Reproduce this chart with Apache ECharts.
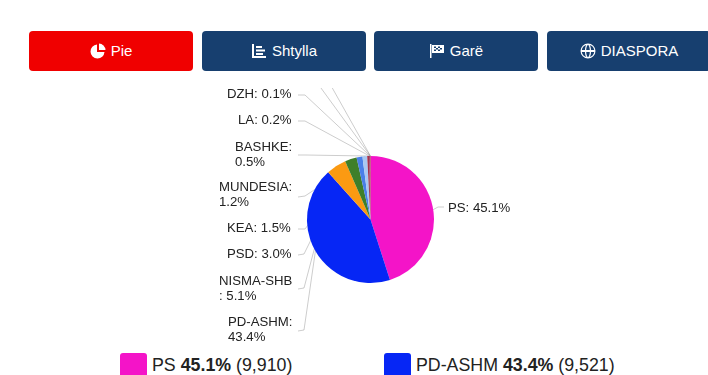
<!DOCTYPE html>
<html><head><meta charset="utf-8">
<script src="https://cdn.jsdelivr.net/npm/echarts@6/dist/echarts.min.js"></script>
<style>
html,body{margin:0;padding:0;background:#fff;width:708px;height:375px;overflow:hidden;font-family:"Liberation Sans",Arial,sans-serif}
.btn{position:absolute;top:31px;width:164px;height:39px;padding-bottom:1px;border-radius:4px;background:#173f6f;color:#fff;font-size:15px;display:flex;align-items:center;justify-content:center;gap:5px}
.btn svg{width:16px;height:16px;fill:#fff}
#chart{position:absolute;left:0;top:88px;width:708px;height:262px}
.lg{position:absolute;top:351px;display:flex;align-items:center;font-size:17.8px;color:#222;white-space:pre}
.sw{width:27px;height:27px;border-radius:3px;margin-top:2px;margin-right:5px}
</style></head><body>
<div class="btn" style="left:29px;background:#f00000"><svg viewBox="0 0 16 16"><path d="M7 1.5A7 7 0 1 0 14.500 9H7z"/><path d="M9 0.500V7h6.500A7 7 0 0 0 9 .5z"/></svg>Pie</div>
<div class="btn" style="left:202px"><svg viewBox="0 0 16 16"><path d="M1 1h2v12h12v2H1z"/><path d="M5 3h6v2H5zM5 6.500h9v2H5zM5 10h7v2H5z"/></svg>Shtylla</div>
<div class="btn" style="left:374px"><svg viewBox="0 0 16 16"><path d="M1 1h1.500v14H1z"/><path d="M3 2h12v8H3zM5 3.500v1.500h2V3.500zM9 3.500v1.500h2V3.500zM7 5v1.500h2V5zM11 5v1.500h2V5zM5 6.500V8h2V6.500zM9 6.500V8h2V6.500z" fill-rule="evenodd"/></svg>Garë</div>
<div class="btn" style="left:547px"><svg viewBox="0 0 16 16"><path fill-rule="evenodd" d="M8 .5a7.500 7.500 0 1 0 0 15 7.500 7.500 0 0 0 0-15zM1.800 7h3.200c0-2 .5-4 1.300-5A6.300 6.300 0 0 0 1.800 7zM6.200 7h3.600C9.700 4.500 9 2.500 8 1.700 7 2.500 6.300 4.500 6.200 7zM11 7h3.200a6.300 6.300 0 0 0-4.500-5c.8 1 1.300 3 1.300 5zM1.800 9a6.300 6.300 0 0 0 4.500 5C5.500 13 5 11 5 9zM6.200 9c.1 2.500.8 4.500 1.800 5.300 1-.8 1.700-2.800 1.800-5.300zM11 9c0 2-.5 4-1.300 5a6.300 6.300 0 0 0 4.500-5z"/></svg>DIASPORA</div>
<div id="chart"></div>
<div class="lg" style="left:120px"><div class="sw" style="background:#f414c8"></div><span>PS <b>45.1%</b> (9,910)</span></div>
<div class="lg" style="left:384px"><div class="sw" style="background:#0626f5"></div><span>PD-ASHM <b>43.4%</b> (9,521)</span></div>
<script>
const parties=['PS','PD-ASHM','NISMA-SHB','PSD','KEA','MUNDESIA','BASHKE','LA','DZH','LIBRA','PDIU'];
const shares=[45.1,43.4,5.1,3.0,1.5,1.2,0.5,0.2,0.1,0.02,0.01];
const colors=['#f414c8','#0626f5','#fb9a12','#3f7f2a','#4a7fe8','#a9c8f2','#a8304a','#8a2a50','#b01818','#666666','#444444'];
// label anchor (x,y of text box, chart-local) and elbow of each leader
const labelPos=[
 {x:448,y:120,lx:444,ly:119,ex:438,ey:119},
 {x:228,y:242,lx:298,ly:243,ex:304,ey:242},
 {x:219,y:201,lx:298,ly:201,ex:304,ey:200},
 {x:227,y:166,lx:298,ly:167,ex:304,ey:166},
 {x:227,y:140,lx:298,ly:141,ex:305,ey:141},
 {x:219,y:107,lx:298,ly:109,ex:305,ey:108},
 {x:235,y:67,lx:298,ly:67,ex:306,ey:67},
 {x:238,y:32,lx:298,ly:33,ex:305,ey:33},
 {x:227,y:6,lx:298,ly:7,ex:305,ey:7},
 {x:240,y:-30,lx:298,ly:-22,ex:305,ey:-22},
 {x:240,y:-50,lx:298,ly:-38,ex:311,ey:-38}
];
const labelText={'BASHKE':'BASHKE:\n0.5%','MUNDESIA':'MUNDESIA:\n1.2%','NISMA-SHB':'NISMA-SHB\n: 5.1%','PD-ASHM':'PD-ASHM:\n43.4%'};
const chart=echarts.init(document.getElementById('chart'));
chart.setOption({
 animation:false,
 series:[{
  type:'pie',center:[370.5,131.5],radius:[0,63.5],startAngle:90,clockwise:true,
  minAngle:0,avoidLabelOverlap:false,
  data:parties.map((n,i)=>({name:n,value:shares[i],itemStyle:{color:colors[i]}})),
  label:{color:'#222',fontSize:13.2,fontFamily:'"Liberation Sans",Arial,sans-serif',lineHeight:15,
   formatter:p=>labelText[p.name]||(p.name+': '+p.value.toFixed(1)+'%')},
  labelLine:{show:true,lineStyle:{color:'rgba(0,0,0,0.2)',width:1}},
  labelLayout:params=>{
    const i=params.dataIndex,q=labelPos[i];
    const pts=params.labelLinePoints||[[0,0]];
    return {x:q.x,y:q.y,align:'left',verticalAlign:'middle',
      labelLinePoints:[pts[0],[q.ex,q.ey],[q.lx,q.ly]]};
  }
 }]
});
</script>
</body></html>
